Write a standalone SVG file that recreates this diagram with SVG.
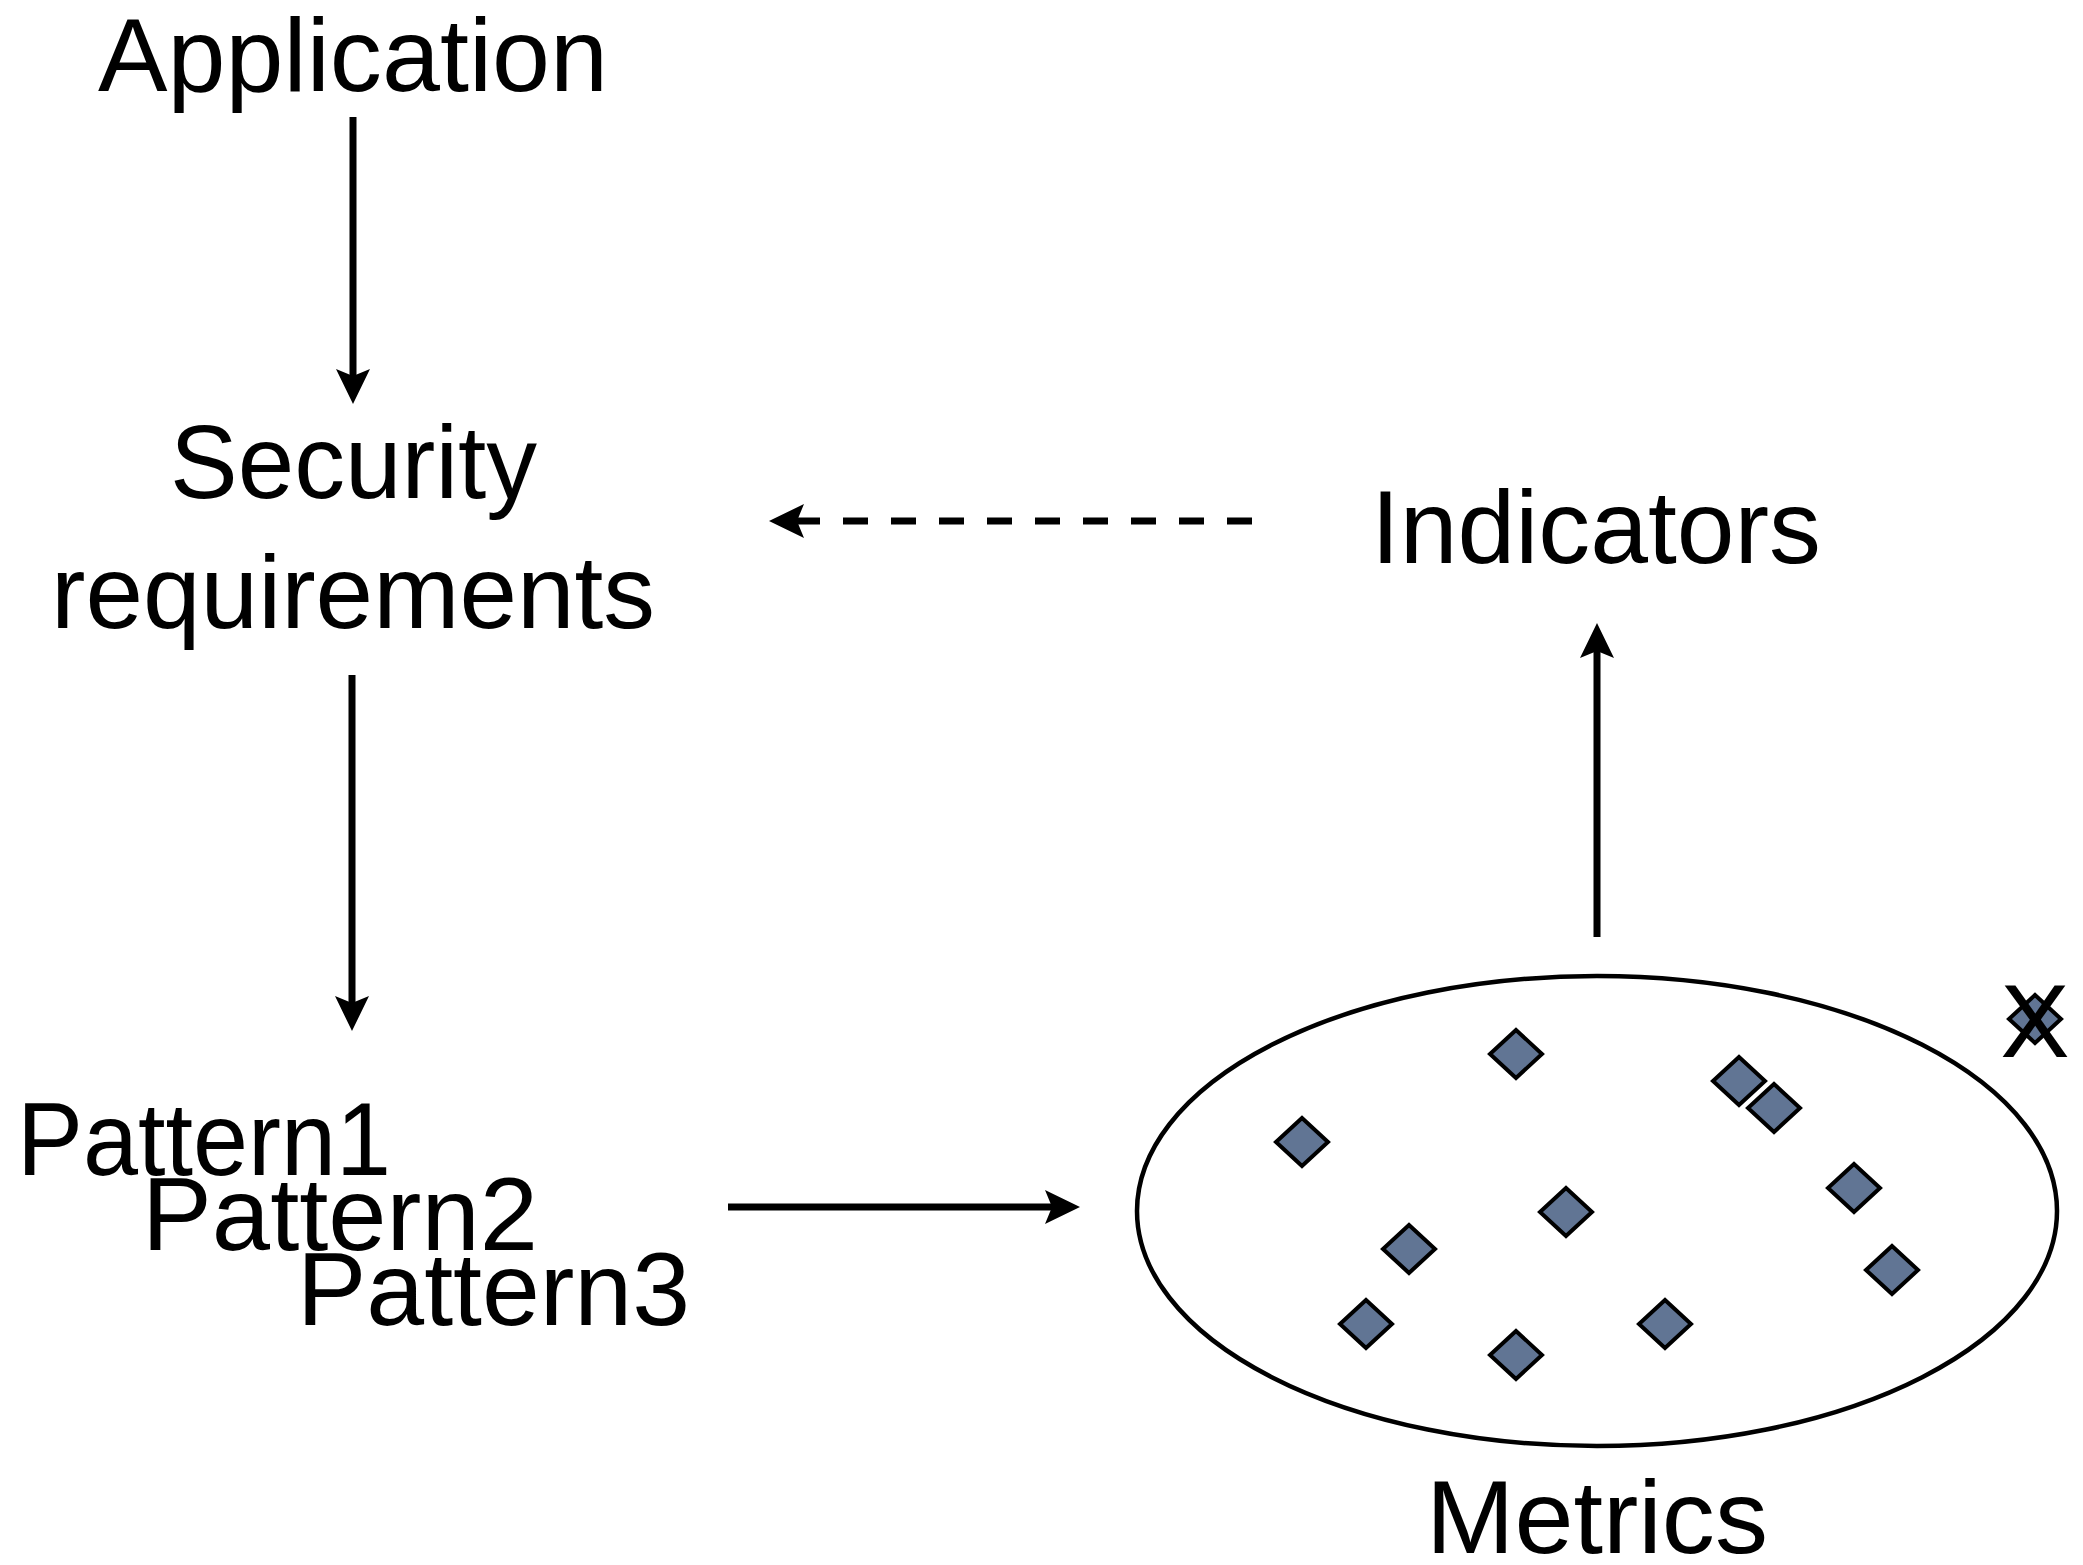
<svg xmlns="http://www.w3.org/2000/svg" xmlns:xlink="http://www.w3.org/1999/xlink" width="2083" height="1565" viewBox="0 0 2083 1565">
  <style>
    .lbl { font-family: "Liberation Sans", Arial, sans-serif; font-size: 104px; fill: #000; }
    .edge { stroke: #000; stroke-width: 7; fill: none; }
    .dash { stroke-dasharray: 25 23; }
    .dot { fill: #617594; stroke: #000; stroke-width: 4; stroke-linejoin: miter; }
    .set { fill: none; stroke: #000; stroke-width: 4.5; }
  </style>
  <defs>
    <!-- notched arrowhead; path end sits at the notch, tip 28px further on -->
    <marker id="head" markerUnits="userSpaceOnUse" viewBox="-36 -18 37 36" markerWidth="37" markerHeight="36" refX="-28" refY="0" orient="auto">
      <path d="M0,0 L-35,-17 L-28,0 L-35,17 Z" fill="#000"/>
    </marker>
    <path id="dia" d="M0,-24 L26,0 L0,24 L-26,0 Z"/>
  </defs>

  <rect width="2083" height="1565" fill="#fff"/>

  <g id="application">
    <text class="lbl" x="98" y="91" textLength="510" lengthAdjust="spacingAndGlyphs">Application</text>
  </g>

  <g id="security-requirements">
    <text class="lbl" x="170" y="498" textLength="367" lengthAdjust="spacingAndGlyphs">Security</text>
    <text class="lbl" x="51" y="628" textLength="604" lengthAdjust="spacingAndGlyphs">requirements</text>
  </g>

  <g id="patterns">
    <text class="lbl" x="17" y="1175" textLength="374" lengthAdjust="spacingAndGlyphs">Pattern1</text>
    <text class="lbl" x="142" y="1250" textLength="396" lengthAdjust="spacingAndGlyphs">Pattern2</text>
    <text class="lbl" x="297" y="1325" textLength="393" lengthAdjust="spacingAndGlyphs">Pattern3</text>
  </g>

  <g id="indicators">
    <text class="lbl" x="1371" y="563" textLength="450" lengthAdjust="spacingAndGlyphs">Indicators</text>
  </g>

  <g id="metrics">
    <ellipse class="set" cx="1597" cy="1211" rx="460" ry="235"/>
    <use xlink:href="#dia" class="dot" x="1516" y="1054"/>
    <use xlink:href="#dia" class="dot" x="1739" y="1081"/>
    <use xlink:href="#dia" class="dot" x="1774" y="1108"/>
    <use xlink:href="#dia" class="dot" x="1302" y="1142"/>
    <use xlink:href="#dia" class="dot" x="1854" y="1188"/>
    <use xlink:href="#dia" class="dot" x="1566" y="1212"/>
    <use xlink:href="#dia" class="dot" x="1409" y="1249"/>
    <use xlink:href="#dia" class="dot" x="1892" y="1270"/>
    <use xlink:href="#dia" class="dot" x="1366" y="1324"/>
    <use xlink:href="#dia" class="dot" x="1665" y="1324"/>
    <use xlink:href="#dia" class="dot" x="1516" y="1355"/>
    <text class="lbl" x="1426" y="1553" textLength="342" lengthAdjust="spacingAndGlyphs">Metrics</text>
  </g>

  <g id="rejected-metric">
    <use xlink:href="#dia" class="dot" x="2035" y="1019"/>
    <text class="lbl" x="2035" y="1057" text-anchor="middle">X</text>
  </g>

  <g id="connectors">
    <path class="edge" d="M353,117 V376" marker-end="url(#head)"/>
    <path class="edge" d="M352,675 V1003" marker-end="url(#head)"/>
    <path class="edge" d="M728,1207 H1052" marker-end="url(#head)"/>
    <path class="edge" d="M1597,937 V651" marker-end="url(#head)"/>
    <path class="edge dash" d="M1252,521 H797" marker-end="url(#head)"/>
  </g>
</svg>
